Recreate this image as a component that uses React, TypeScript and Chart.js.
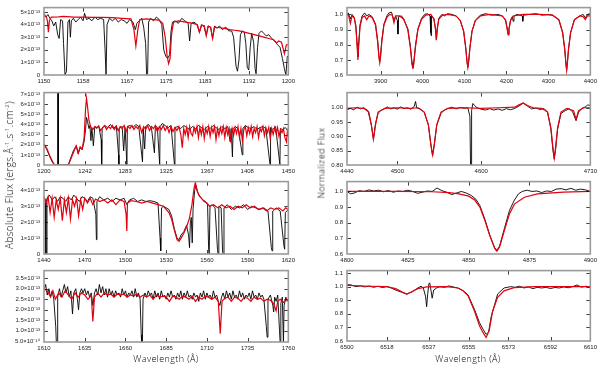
import React, { useEffect, useRef } from 'react';
import { Chart, registerables } from 'chart.js';

Chart.register(...registerables);

type Pt = [number, number];

// ---------- Panel 1 : 1150–1200 Å (flux in units of 1e-13) ----------
const p1XTicks = [1150, 1158, 1167, 1175, 1183, 1192, 1200];
const p1YTicks = [0, 1, 2, 3, 4, 5];
const p1YLabels = ['0', '1×10⁻¹³', '2×10⁻¹³', '3×10⁻¹³', '4×10⁻¹³', '5×10⁻¹³'];
const p1Obs: Pt[] = [
  [1150, 4.9], [1150.4, 4.6], [1150.8, 4.8], [1151.2, 4.5], [1151.6, 4.3], [1152, 3.9], [1152.4, 4.2],
  [1152.8, 3.2], [1153.1, 2.9], [1153.4, 4.4], [1153.8, 4.3], [1154, 2.5], [1154.3, 0], [1154.6, 0.3],
  [1154.9, 4.2], [1155.2, 4.4], [1155.4, 3.0], [1155.6, 4.3], [1156, 4.5], [1156.5, 4.2], [1157, 4.4],
  [1157.5, 4.6], [1158, 4.3], [1158.3, 4.9], [1158.7, 4.4], [1159.2, 4.5], [1159.8, 4.3], [1160.4, 4.6],
  [1161, 4.4], [1161.6, 4.5], [1162.2, 4.4], [1162.5, 2.0], [1162.7, 0], [1162.9, 4.0], [1163.4, 4.5],
  [1164, 4.3], [1164.6, 4.5], [1165.2, 4.2], [1165.8, 4.4], [1166.4, 4.3], [1167, 4.1], [1167.5, 4.4],
  [1168.2, 4.2], [1168.7, 3.6], [1169, 4.1], [1169.5, 4.3], [1170, 4.5], [1170.4, 3.8], [1170.8, 2.5],
  [1171, 0], [1171.2, 0.1], [1171.4, 4.2], [1171.8, 4.5], [1172.4, 4.3], [1173, 4.6], [1173.6, 4.4],
  [1174.1, 4.0], [1174.5, 2.0], [1174.9, 1.5], [1175.3, 1.3], [1175.7, 1.6], [1176, 3.5], [1176.3, 4.2],
  [1176.8, 4.3], [1177.5, 4.1], [1178.2, 4.5], [1178.8, 4.3], [1179.5, 4.1], [1179.8, 2.7], [1180.1, 4.1],
  [1180.7, 4.2], [1181.3, 4.0], [1181.8, 3.4], [1182.3, 4.0], [1182.8, 3.8], [1183.2, 3.2], [1183.6, 3.9],
  [1184.1, 3.8], [1184.5, 2.9], [1184.9, 3.9], [1185.4, 3.7], [1185.9, 3.9], [1186.5, 3.6], [1187.2, 3.8],
  [1187.8, 3.5], [1188.4, 3.5], [1188.8, 3.0], [1189.3, 0.7], [1189.6, 0.3], [1189.9, 1.2], [1190.2, 3.2],
  [1190.6, 3.5], [1191, 3.4], [1191.3, 2.5], [1191.6, 0.6], [1191.9, 0.4], [1192.2, 2.2], [1192.5, 3.3],
  [1192.9, 2.6], [1193.2, 0.5], [1193.4, 0.1], [1193.7, 2.2], [1194, 3.3], [1194.5, 3.5], [1195, 3.3],
  [1195.5, 3.1], [1196, 3.2], [1196.6, 2.9], [1197.2, 2.7], [1197.8, 2.4], [1198.3, 2.2], [1198.8, 1.3],
  [1199.2, 0.5], [1199.5, 0], [1199.8, 1.5], [1200, 1.4],
];
const p1Model: Pt[] = [
  [1150, 4.7], [1150.5, 4.6], [1150.7, 4.3], [1150.9, 3.4], [1151.1, 4.3], [1151.5, 4.6], [1153, 4.62],
  [1154, 4.65], [1156, 4.6], [1158, 4.6], [1160, 4.58], [1162, 4.57], [1164, 4.55], [1166, 4.5],
  [1167.8, 4.45], [1168.4, 3.6], [1168.8, 2.3], [1169.2, 3.6], [1169.6, 4.4], [1171, 4.45], [1172.5, 4.4],
  [1173.5, 4.35], [1174.3, 4.1], [1174.8, 3.0], [1175.2, 1.5], [1175.5, 0.9], [1175.8, 1.3], [1176.1, 3.2],
  [1176.5, 4.2], [1177.5, 4.3], [1179, 4.2], [1180.5, 4.1], [1181.4, 4.0], [1181.8, 3.4], [1182.2, 3.95],
  [1182.8, 3.9], [1183.2, 3.1], [1183.6, 3.85], [1184.1, 3.8], [1184.5, 2.9], [1184.9, 3.8], [1186, 3.75],
  [1187, 3.7], [1188, 3.6], [1189, 3.55], [1190, 3.5], [1191, 3.4], [1192, 3.3], [1193, 3.2], [1194, 3.1],
  [1195, 3.0], [1196, 2.9], [1197, 2.8], [1197.6, 2.55], [1198, 2.7], [1198.6, 2.6], [1199.2, 1.7],
  [1199.6, 2.4], [1200, 2.4],
];

// ---------- Panel 2 : 1200–1450 Å ----------
const p2XTicks = [1200, 1242, 1283, 1325, 1367, 1408, 1450];
const p2YTicks = [0, 1, 2, 3, 4, 5, 6, 7];
const p2YLabels = ['0', '1×10⁻¹³', '2×10⁻¹³', '3×10⁻¹³', '4×10⁻¹³', '5×10⁻¹³', '6×10⁻¹³', '7×10⁻¹³'];
const p2Obs: Pt[] = [
  [1200, 2.05], [1203, 1.5], [1206, 0.8], [1209, 0.2], [1211, 0], [1213.8, 0], [1214, 7.5], [1214.5, 7.5],
  [1214.7, 0], [1220, 0], [1225, 0.05], [1227, 0.6], [1230, 1.4], [1233, 1.9], [1235, 1.1], [1237, 1.7],
  [1239, 1.5], [1241, 2.3], [1242.5, 3.5], [1243.5, 4.7], [1244.5, 4.3], [1246, 3.6], [1247, 3.9],
  [1248, 2.4], [1249, 3.7], [1250.5, 1.9], [1252, 3.8], [1254, 3.6], [1256, 3.9], [1258.5, 2.5],
  [1259, 0], [1259.5, 3.6], [1262, 3.9], [1265, 3.7], [1268, 4.0], [1271, 3.6], [1274, 3.9], [1276.3, 1.0],
  [1276.6, 0], [1277, 3.6], [1280, 3.8], [1281.5, 1.4], [1283, 3.7], [1284.8, 0], [1285.3, 3.8],
  [1288, 3.9], [1291, 3.7], [1294, 4.0], [1297, 3.8], [1300, 1.0], [1300.8, 0.3], [1301.5, 3.6],
  [1303, 1.6], [1304, 3.8], [1307, 4.0], [1310, 3.6], [1313, 1.2], [1314, 3.9], [1316, 3.7], [1318.4, 0],
  [1318.8, 3.8], [1321, 4.1], [1324, 3.9], [1327, 3.7], [1330, 3.9], [1333.5, 0], [1334, 3.7], [1337, 3.8],
  [1340, 3.6], [1343, 3.9], [1346, 3.7], [1349, 3.5], [1352, 3.8], [1355, 3.6], [1358, 3.9], [1361, 3.7],
  [1364, 3.5], [1367, 3.8], [1370, 3.6], [1373, 3.9], [1376, 3.7], [1379, 3.5], [1382, 3.8], [1385, 3.6],
  [1388, 3.8], [1390.5, 2.3], [1391.5, 3.6], [1392.8, 0.8], [1393.5, 3.6], [1396, 3.8], [1399, 3.5],
  [1402.9, 1.0], [1403.5, 3.6], [1406, 3.9], [1409, 3.7], [1412, 3.6], [1415, 3.8], [1418, 3.5],
  [1421, 3.7], [1424, 3.8], [1427, 3.6], [1431.3, 0], [1431.8, 3.7], [1434, 3.5], [1437, 3.8],
  [1441.4, 0], [1441.9, 3.6], [1444, 3.5], [1447, 3.7], [1450, 3.3],
];
const p2Model: Pt[] = [
  [1200, 2.1], [1203, 1.6], [1206, 0.9], [1209, 0.3], [1211, 0], [1225, 0], [1227, 0.5], [1230, 1.2],
  [1233, 1.9], [1235, 1.2], [1237, 1.8], [1239, 1.6], [1241, 2.6], [1242.5, 5.5], [1243.5, 6.6],
  [1244.5, 5.8], [1246, 4.4], [1248, 3.7], [1250, 3.5], [1252, 3.8], [1254, 3.7], [1256, 3.8], [1258, 3.4],
  [1260, 3.7], [1262, 3.9], [1264, 3.5], [1266, 3.8], [1268, 3.6], [1270, 3.9], [1272, 3.5], [1274, 3.8],
  [1276, 3.4], [1278, 3.8], [1280, 3.6], [1282, 3.9], [1284, 3.3], [1286, 3.8], [1288, 3.6], [1290, 3.9],
  [1292, 3.5], [1294, 3.8], [1296, 3.6], [1298, 3.9], [1300, 3.2], [1302, 3.8], [1304, 3.5], [1306, 3.9],
  [1308, 3.4], [1310, 3.8], [1312, 3.6], [1314, 3.9], [1316, 3.3], [1318, 3.8], [1320, 3.5], [1322, 3.9],
  [1324, 3.4], [1326, 3.8], [1328, 3.2], [1330, 3.8], [1332, 3.3], [1334, 3.7], [1336, 3.4], [1338, 3.8],
  [1340, 3.0], [1341.5, 1.7], [1343, 3.6], [1344.5, 3.0], [1346, 3.7], [1347.5, 2.7], [1349, 3.8],
  [1350.5, 3.1], [1352, 2.9], [1353.5, 3.7], [1355, 3.2], [1356.5, 3.8], [1358, 2.7], [1359.5, 3.7],
  [1361, 3.0], [1362.5, 3.8], [1364, 2.6], [1365.5, 3.6], [1367, 3.1], [1368.5, 3.8], [1370, 2.8],
  [1371.5, 3.7], [1373, 3.2], [1374.5, 3.8], [1376, 2.5], [1377.5, 3.6], [1379, 2.9], [1380.5, 3.7],
  [1382, 3.1], [1383.5, 3.8], [1385, 2.7], [1386.5, 3.7], [1388, 3.0], [1389.5, 3.6], [1391, 2.5],
  [1392.5, 3.6], [1394, 2.9], [1395.5, 3.7], [1397, 3.1], [1398.5, 3.8], [1400, 2.7], [1401.5, 3.6],
  [1403, 2.4], [1404.5, 3.5], [1406, 3.8], [1407.5, 2.9], [1409, 3.7], [1410.5, 3.1], [1412, 3.8],
  [1413.5, 2.8], [1415, 3.6], [1416.5, 3.2], [1418, 3.8], [1419.5, 2.7], [1421, 3.6], [1422.5, 3.3],
  [1424, 3.8], [1425.5, 2.9], [1427, 3.7], [1428.5, 3.2], [1430, 3.7], [1431.5, 2.6], [1433, 3.6],
  [1434.5, 3.0], [1436, 3.7], [1437.5, 3.1], [1439, 3.7], [1440.5, 2.8], [1442, 3.5], [1443.5, 3.2],
  [1445, 3.6], [1446.5, 2.7], [1448, 2.3], [1449, 3.3], [1450, 2.8],
];

// ---------- Panel 3 : 1440–1620 Å ----------
const p3XTicks = [1440, 1470, 1500, 1530, 1560, 1590, 1620];
const p3YTicks = [0, 1, 2, 3, 4];
const p3YLabels = ['0', '1×10⁻¹³', '2×10⁻¹³', '3×10⁻¹³', '4×10⁻¹³'];
const p3Obs: Pt[] = [
  [1440, 3.6], [1441, 3.4], [1441.4, 0], [1441.8, 0], [1442.2, 3.5], [1444, 3.7], [1446, 3.4], [1448, 3.6],
  [1450, 3.3], [1452, 3.6], [1454, 3.5], [1456, 3.3], [1458, 3.6], [1460, 3.4], [1462, 3.7], [1464, 3.5],
  [1466, 3.3], [1468, 3.6], [1470, 3.5], [1472, 3.3], [1474, 3.6], [1476, 3.5], [1478.2, 2.5],
  [1478.6, 0.9], [1479, 3.3], [1481, 3.6], [1484, 3.4], [1487, 3.5], [1490, 3.3], [1493, 3.5], [1496, 3.4],
  [1499, 3.5], [1501, 3.1], [1503, 3.4], [1506, 3.5], [1509, 3.3], [1512, 3.4], [1515, 3.3], [1518, 3.35],
  [1521, 3.3], [1524, 3.2], [1525.5, 1.0], [1526, 0.2], [1526.6, 2.9], [1528, 3.0], [1530, 2.9],
  [1532, 2.8], [1534, 2.4], [1536, 1.6], [1538, 1.0], [1539.5, 0.9], [1541, 1.2], [1543, 1.4], [1545, 1.8],
  [1546.5, 1.2], [1547.2, 0.4], [1547.8, 1.9], [1548.5, 2.3], [1549.2, 0.7], [1549.8, 2.8], [1551, 4.0],
  [1552, 4.3], [1553, 3.9], [1555, 3.6], [1557, 3.4], [1559, 3.3], [1560.5, 3.1], [1561.3, 0.3],
  [1561.7, 0], [1562.3, 3.0], [1564, 3.1], [1566, 2.9], [1567.8, 0.3], [1568.2, 0], [1568.8, 3.0],
  [1570.5, 2.9], [1571.6, 0.1], [1572, 0], [1572.6, 2.9], [1575, 3.1], [1578, 2.8], [1581, 3.0],
  [1584, 2.9], [1587, 3.1], [1590, 2.8], [1593, 3.0], [1596, 2.9], [1599, 2.8], [1602, 2.9], [1605, 2.7],
  [1607.5, 0.4], [1608, 0.2], [1608.5, 2.7], [1611, 2.9], [1614, 2.7], [1616.8, 0.5], [1617.3, 0.3],
  [1617.8, 2.6], [1620, 2.8],
];
const p3Model: Pt[] = [
  [1440, 3.6], [1441.5, 3.2], [1443, 3.6], [1444.5, 2.6], [1446, 3.5], [1447.5, 2.3], [1449, 3.4],
  [1450.5, 2.8], [1452, 3.5], [1453.5, 2.1], [1455, 3.4], [1456.5, 2.6], [1458, 3.5], [1459.5, 2.2],
  [1461, 3.4], [1462.5, 3.0], [1464, 3.5], [1465.5, 2.4], [1467, 3.4], [1468.5, 2.8], [1470, 3.5],
  [1472, 3.2], [1474, 3.5], [1476, 3.1], [1478, 3.45], [1481, 3.3], [1484, 3.4], [1487, 3.2], [1490, 3.4],
  [1493, 3.1], [1496, 3.4], [1499, 3.3], [1500.5, 2.5], [1501, 1.45], [1501.5, 3.2], [1504, 3.35],
  [1508, 3.3], [1512, 3.2], [1516, 3.3], [1520, 3.2], [1524, 3.1], [1528, 3.0], [1530, 2.8], [1532, 2.6],
  [1534, 2.2], [1536, 1.5], [1538, 0.9], [1539.5, 0.8], [1541, 1.0], [1543, 1.3], [1545, 1.7],
  [1547, 2.2], [1549, 3.1], [1550.5, 4.1], [1551.5, 4.5], [1552.5, 4.1], [1554, 3.7], [1556, 3.5],
  [1558, 3.3], [1560, 3.2], [1562, 3.0], [1565, 3.1], [1568, 2.9], [1571, 3.1], [1574, 2.9], [1577, 3.0],
  [1580, 2.8], [1583, 3.0], [1586, 2.9], [1589, 3.1], [1592, 2.9], [1595, 3.0], [1598, 2.8], [1601, 2.9],
  [1604, 2.7], [1607, 2.9], [1610, 2.8], [1613, 2.9], [1616, 2.7], [1618, 2.9], [1620, 2.8],
];

// ---------- Panel 4 : 1610–1760 Å ----------
const p4XTicks = [1610, 1635, 1660, 1685, 1710, 1735, 1760];
const p4YTicks = [0.5, 1.0, 1.5, 2.0, 2.5, 3.0, 3.5];
const p4YLabels = ['5.0×10⁻¹⁴', '1.0×10⁻¹³', '1.5×10⁻¹³', '2.0×10⁻¹³', '2.5×10⁻¹³', '3.0×10⁻¹³', '3.5×10⁻¹³'];
const p4Obs: Pt[] = [
  [1610, 2.9], [1611, 3.2], [1612, 2.7], [1613, 3.0], [1614, 2.6], [1615, 2.9], [1616, 2.5], [1617.2, 1.2],
  [1617.6, 0.4], [1618, 0.4], [1618.4, 2.6], [1619.5, 3.0], [1620.5, 2.6], [1621.5, 2.9], [1622.5, 3.2],
  [1623.5, 2.8], [1624.5, 3.1], [1625.5, 2.6], [1626.5, 2.9], [1627.5, 1.8], [1628.3, 2.8], [1629.5, 3.0],
  [1630.5, 2.5], [1631.2, 2.0], [1632, 2.8], [1633, 3.0], [1634, 2.8], [1635, 3.0], [1636, 2.7],
  [1637, 2.9], [1638, 2.6], [1639, 2.8], [1640, 2.2], [1641, 2.8], [1642, 3.0], [1643, 2.7], [1644, 3.2],
  [1645, 2.8], [1646, 3.1], [1647, 2.7], [1648, 3.0], [1649, 2.6], [1650, 3.0], [1651, 2.7], [1652, 2.9],
  [1653, 2.6], [1654, 2.9], [1655, 2.7], [1656, 2.8], [1657, 2.6], [1658, 3.0], [1659, 2.7], [1660, 2.9],
  [1661, 2.6], [1662, 2.8], [1663, 2.7], [1664, 2.9], [1665, 2.6], [1666, 3.0], [1667, 2.6], [1668, 2.8],
  [1669, 2.5], [1669.7, 0.8], [1670, 0.4], [1670.4, 0.4], [1670.8, 2.5], [1672, 2.8], [1673, 2.6],
  [1674, 2.9], [1675, 2.7], [1676, 2.8], [1677, 2.5], [1678, 2.9], [1679, 2.6], [1680, 2.8], [1681, 2.5],
  [1682, 2.9], [1683, 2.6], [1684, 2.7], [1685, 2.5], [1686, 2.8], [1687, 2.6], [1688, 2.9], [1689, 2.6],
  [1690, 2.7], [1691, 2.5], [1692, 2.8], [1693, 2.6], [1694, 2.9], [1695, 2.5], [1696, 2.8], [1697, 2.6],
  [1698, 2.9], [1699, 2.6], [1700, 2.7], [1701, 2.5], [1702, 2.8], [1703, 2.6], [1704, 2.7], [1705, 2.4],
  [1706, 2.8], [1707, 2.6], [1708, 2.9], [1709, 2.5], [1710, 2.8], [1711, 2.6], [1712, 2.7], [1713, 2.5],
  [1714, 2.9], [1715, 2.6], [1716, 2.7], [1717, 2.4], [1718, 2.2], [1719, 2.6], [1720, 2.8], [1721, 2.5],
  [1722, 2.9], [1723, 2.6], [1724, 2.8], [1725, 2.5], [1726, 2.9], [1727, 2.6], [1728, 2.7], [1729, 2.5],
  [1730, 2.9], [1731, 2.6], [1732, 2.8], [1733, 2.5], [1734, 2.7], [1735, 2.6], [1736, 2.8], [1737, 2.5],
  [1738, 2.9], [1739, 2.6], [1740, 2.7], [1741, 2.5], [1742, 2.8], [1743, 2.6], [1744, 2.7], [1745, 2.5],
  [1746.5, 1.2], [1747, 0.7], [1747.5, 2.5], [1749, 2.7], [1750.5, 2.2], [1751, 1.9], [1751.6, 2.6],
  [1752.5, 2.4], [1753.5, 2.7], [1754.6, 1.0], [1755, 0.4], [1755.4, 2.3], [1756.3, 2.6], [1757, 0.4],
  [1757.4, 2.2], [1758.5, 2.6], [1759.3, 2.4], [1760, 2.5],
];
const p4Model: Pt[] = [
  [1610, 3.0], [1612, 2.9], [1614, 2.6], [1615.5, 2.9], [1617, 2.5], [1619, 2.8], [1621, 2.6], [1623, 2.9],
  [1625, 2.7], [1627, 2.5], [1629, 2.8], [1631, 2.6], [1633, 2.8], [1635, 2.7], [1637, 2.5], [1639, 2.7],
  [1640, 1.45], [1641, 2.6], [1643, 2.8], [1645, 2.6], [1647, 2.8], [1649, 2.7], [1651, 2.75], [1653, 2.6],
  [1655, 2.75], [1657, 2.7], [1659, 2.75], [1661, 2.6], [1663, 2.7], [1665, 2.65], [1667, 2.75],
  [1669, 2.6], [1671, 2.7], [1673, 2.6], [1675, 2.7], [1677, 2.5], [1679, 2.7], [1681, 2.6], [1683, 2.65],
  [1685, 2.6], [1687, 2.4], [1689, 2.65], [1691, 2.6], [1693, 2.5], [1695, 2.65], [1697, 2.6], [1699, 2.5],
  [1701, 2.65], [1703, 2.4], [1705, 2.6], [1707, 2.5], [1709, 2.65], [1711, 2.6], [1713, 2.5], [1715, 2.6],
  [1717, 2.4], [1718.2, 0.86], [1719.3, 2.4], [1721, 2.55], [1723, 2.6], [1725, 2.4], [1727, 2.6],
  [1729, 2.55], [1731, 2.4], [1733, 2.6], [1735, 2.55], [1737, 2.4], [1739, 2.6], [1741, 2.5],
  [1743, 2.55], [1745, 2.4], [1747, 2.5], [1749, 2.45], [1751, 2.3], [1752.5, 1.95], [1753.5, 2.4],
  [1755, 2.5], [1757, 2.35], [1759, 2.5], [1760, 2.45],
];

// ---------- Right panel 1 : 3820–4400 Å (normalized) ----------
const r1XTicks = [3900, 4000, 4100, 4200, 4300, 4400];
const r1YTicks = [0.6, 0.7, 0.8, 0.9, 1.0];
const r1YLabels = ['0.6', '0.7', '0.8', '0.9', '1.0'];
const r1Obs: Pt[] = [
  [3820, 1.0], [3823, 1.01], [3828, 0.97], [3832, 1.0], [3837, 0.98], [3841, 0.93], [3844, 0.81],
  [3846, 0.72], [3848, 0.81], [3851, 0.93], [3856, 0.99], [3862, 1.01], [3867, 0.99], [3872, 1.0],
  [3880, 0.985], [3888, 0.935], [3893, 0.83], [3896, 0.73], [3898, 0.69], [3900, 0.73], [3903, 0.83],
  [3908, 0.935], [3915, 0.99], [3920, 1.01], [3926, 1.015], [3932, 0.96], [3936, 0.99], [3940, 0.96],
  [3941.5, 0.87], [3943, 0.985], [3950, 0.99], [3955, 0.97], [3965, 0.905], [3971, 0.79], [3975, 0.68],
  [3977, 0.65], [3979, 0.68], [3983, 0.79], [3989, 0.905], [3998, 0.975], [4005, 1.0], [4012, 1.005],
  [4018, 0.99], [4019.5, 0.88], [4020.5, 0.86], [4021.5, 0.99], [4027, 0.975], [4031, 0.905],
  [4033, 0.835], [4035, 0.905], [4039, 0.975], [4046, 1.0], [4052, 0.99], [4060, 1.005], [4070, 1.0],
  [4080, 0.99], [4090, 0.96], [4098, 0.89], [4103, 0.78], [4106, 0.69], [4108, 0.65], [4110, 0.69],
  [4113, 0.78], [4118, 0.89], [4126, 0.96], [4138, 0.995], [4150, 1.005], [4165, 0.995], [4180, 1.0],
  [4190, 0.99], [4198, 0.965], [4202, 0.905], [4204, 0.87], [4206, 0.905], [4210, 0.965], [4214, 0.985],
  [4216, 0.955], [4218, 0.99], [4225, 1.0], [4238, 0.99], [4239, 0.955], [4240.5, 0.995], [4255, 1.0],
  [4270, 1.005], [4285, 0.995], [4300, 1.0], [4310, 0.995], [4325, 0.965], [4334, 0.88], [4339, 0.77],
  [4342, 0.67], [4343.6, 0.635], [4345, 0.67], [4348, 0.77], [4353, 0.88], [4362, 0.965], [4375, 0.99],
  [4383, 1.0], [4388, 0.975], [4393, 1.0], [4400, 1.005],
];
const r1Model: Pt[] = [
  [3820, 1.0], [3824, 0.99], [3828, 0.94], [3832, 0.99], [3837, 0.98], [3841, 0.92], [3844, 0.8],
  [3846, 0.7], [3848, 0.8], [3851, 0.92], [3856, 0.98], [3862, 0.99], [3867, 0.965], [3872, 0.99],
  [3880, 0.98], [3888, 0.93], [3893, 0.82], [3896, 0.72], [3898, 0.68], [3900, 0.72], [3903, 0.82],
  [3908, 0.93], [3915, 0.98], [3922, 1.0], [3928, 0.995], [3932, 0.945], [3936, 0.99], [3945, 0.99],
  [3955, 0.97], [3965, 0.9], [3971, 0.78], [3975, 0.67], [3977, 0.64], [3979, 0.67], [3983, 0.78],
  [3989, 0.9], [3998, 0.97], [4008, 0.995], [4020, 1.0], [4027, 0.97], [4031, 0.9], [4033, 0.83],
  [4035, 0.9], [4039, 0.97], [4048, 0.995], [4060, 1.0], [4080, 0.99], [4090, 0.96], [4098, 0.89],
  [4103, 0.78], [4106, 0.69], [4108, 0.65], [4110, 0.69], [4113, 0.78], [4118, 0.89], [4126, 0.96],
  [4138, 0.99], [4160, 1.0], [4190, 0.99], [4198, 0.96], [4202, 0.9], [4204, 0.865], [4206, 0.9],
  [4210, 0.96], [4216, 0.99], [4240, 1.0], [4280, 1.0], [4310, 0.995], [4325, 0.965], [4334, 0.88],
  [4339, 0.77], [4342, 0.67], [4343.6, 0.63], [4345, 0.67], [4348, 0.77], [4353, 0.88], [4362, 0.965],
  [4375, 0.99], [4383, 0.985], [4388, 0.965], [4393, 0.99], [4400, 0.99],
];

// ---------- Right panel 2 : 4440–4730 Å ----------
const r2XTicks = [4440, 4500, 4600, 4730];
const r2YTicks = [0.8, 0.85, 0.9, 0.95, 1.0];
const r2YLabels = ['0.80', '0.85', '0.90', '0.95', '1.00'];
const r2Obs: Pt[] = [
  [4440, 0.993], [4444, 0.998], [4448, 0.993], [4452, 1.002], [4456, 0.996], [4460, 1.0], [4465, 0.99],
  [4469, 0.94], [4471.5, 0.89], [4474, 0.945], [4477, 0.98], [4480, 0.99], [4484, 0.995], [4488, 1.003],
  [4492, 0.996], [4496, 1.0], [4500, 0.995], [4504, 1.003], [4508, 0.997], [4512, 1.0], [4516, 0.995],
  [4520, 1.004], [4521.7, 1.022], [4523, 1.0], [4527, 0.996], [4532, 0.985], [4537, 0.94], [4540, 0.87],
  [4542, 0.832], [4544, 0.87], [4547, 0.94], [4552, 0.98], [4556, 0.992], [4560, 0.997], [4565, 1.002],
  [4570, 0.996], [4575, 1.001], [4580, 0.998], [4584, 1.0], [4586.5, 0.97], [4587.3, 0.78], [4588, 0.78],
  [4588.5, 0.99], [4590, 1.015], [4592, 1.008], [4595, 1.0], [4600, 0.995], [4605, 0.992], [4610, 0.997],
  [4615, 0.992], [4620, 0.996], [4625, 0.991], [4630, 0.997], [4635, 0.993], [4640, 0.998], [4645, 1.006],
  [4650, 1.016], [4655, 1.006], [4660, 0.996], [4665, 0.999], [4670, 0.994], [4675, 0.997], [4679, 0.985],
  [4683, 0.925], [4685.5, 0.85], [4687, 0.82], [4688.5, 0.85], [4691, 0.925], [4695, 0.98], [4700, 0.99],
  [4705, 0.997], [4709, 0.985], [4713, 0.955], [4716, 0.985], [4720, 0.998], [4724, 1.003], [4727, 1.01],
  [4730, 1.008],
];
const r2Model: Pt[] = [
  [4440, 0.998], [4450, 1.0], [4460, 0.998], [4466, 0.985], [4469, 0.94], [4471.5, 0.89], [4474, 0.94],
  [4477, 0.985], [4485, 0.998], [4500, 1.0], [4515, 0.998], [4525, 1.0], [4532, 0.985], [4537, 0.94],
  [4540, 0.87], [4542, 0.835], [4544, 0.87], [4547, 0.94], [4552, 0.985], [4560, 0.998], [4580, 1.0],
  [4600, 0.998], [4620, 1.0], [4640, 1.002], [4645, 1.01], [4650, 1.017], [4655, 1.008], [4662, 1.0],
  [4672, 0.998], [4679, 0.985], [4683, 0.93], [4685.5, 0.86], [4687, 0.825], [4688.5, 0.86], [4691, 0.93],
  [4695, 0.985], [4702, 0.998], [4710, 0.99], [4713, 0.96], [4716, 0.99], [4722, 1.0], [4730, 1.0],
];

// ---------- Right panel 3 : 4800–4900 Å ----------
const r3XTicks = [4800, 4825, 4850, 4875, 4900];
const r3YTicks = [0.6, 0.7, 0.8, 0.9, 1.0];
const r3YLabels = ['0.6', '0.7', '0.8', '0.9', '1.0'];
const r3Obs: Pt[] = [
  [4800, 1.0], [4801.5, 0.985], [4803, 0.99], [4805, 1.005], [4807, 1.0], [4809, 1.01], [4811, 1.003],
  [4813, 1.008], [4815, 0.998], [4817, 1.006], [4819, 0.995], [4821, 1.003], [4823, 1.0], [4825, 1.008],
  [4827, 1.0], [4829, 0.988], [4831, 0.995], [4833, 1.003], [4835, 1.0], [4837, 1.022], [4839, 1.005],
  [4841, 0.995], [4843, 0.98], [4845, 0.99], [4847, 1.0], [4849, 0.99], [4851, 0.975], [4853, 0.95],
  [4854.6, 0.91], [4856.6, 0.825], [4858.7, 0.72], [4860.7, 0.64], [4861.6, 0.624], [4862.7, 0.65],
  [4864.8, 0.77], [4866.8, 0.88], [4868.8, 0.945], [4870.5, 0.985], [4872, 1.0], [4874, 1.008],
  [4876, 1.0], [4878, 1.003], [4880, 0.993], [4882, 1.003], [4884, 1.0], [4886, 1.015], [4888, 1.018],
  [4890, 1.01], [4892, 1.02], [4894, 1.008], [4896, 1.015], [4898, 1.01], [4900, 1.0],
];
const r3Model: Pt[] = [
  [4800, 1.0], [4820, 1.0], [4835, 0.998], [4842, 0.993], [4846, 0.985], [4850, 0.97], [4852.5, 0.945],
  [4854.6, 0.9], [4856.6, 0.817], [4858.7, 0.716], [4860.7, 0.635], [4861.6, 0.618], [4862.7, 0.645],
  [4864.8, 0.756], [4866.8, 0.858], [4868.8, 0.919], [4872.9, 0.963], [4878.3, 0.984], [4889, 0.996],
  [4900, 1.0],
];

// ---------- Right panel 4 : 6500–6610 Å ----------
const r4XTicks = [6500, 6518, 6537, 6555, 6573, 6592, 6610];
const r4YTicks = [0.6, 0.7, 0.8, 0.9, 1.0, 1.1];
const r4YLabels = ['0.6', '0.7', '0.8', '0.9', '1.0', '1.1'];
const r4Obs: Pt[] = [
  [6500, 1.015], [6502, 1.012], [6504, 1.0], [6506, 1.006], [6508, 0.998], [6510, 1.005], [6512, 0.995],
  [6514, 1.003], [6516, 0.993], [6518, 1.0], [6520, 0.99], [6522, 0.975], [6524.5, 0.96], [6527, 0.945],
  [6529.5, 0.962], [6532, 0.99], [6533.5, 1.003], [6534.5, 0.99], [6535.5, 0.93], [6536, 0.852],
  [6536.5, 0.95], [6537, 1.02], [6537.4, 1.028], [6538, 0.97], [6538.5, 0.915], [6539.2, 0.975],
  [6540.5, 0.99], [6542, 1.0], [6544, 0.995], [6546, 1.005], [6548, 0.998], [6550, 0.99], [6552, 0.975],
  [6554.7, 0.94], [6557.7, 0.83], [6559.9, 0.735], [6561.4, 0.689], [6562.9, 0.649], [6564, 0.665],
  [6565.2, 0.78], [6566.6, 0.86], [6568.1, 0.946], [6571, 0.99], [6574, 1.0], [6576, 0.995], [6578, 1.003],
  [6580, 0.99], [6582, 0.998], [6584, 0.985], [6586, 0.995], [6588, 0.99], [6590, 0.995], [6592, 0.986],
  [6594, 0.994], [6596, 0.99], [6598, 0.998], [6600, 0.992], [6602, 1.0], [6604, 1.012], [6606, 0.996],
  [6608, 1.003], [6610, 0.996],
];
const r4Model: Pt[] = [
  [6500, 1.01], [6510, 1.003], [6518, 1.0], [6522, 0.985], [6525, 0.96], [6527, 0.945], [6529, 0.96],
  [6532, 0.985], [6536, 0.998], [6545, 1.0], [6550.2, 0.99], [6552.5, 0.97], [6554.7, 0.934],
  [6557.7, 0.817], [6559.9, 0.712], [6561.4, 0.665], [6562.9, 0.626], [6564.3, 0.678], [6565.8, 0.817],
  [6568.1, 0.922], [6571, 0.969], [6575.5, 0.993], [6585, 1.0], [6600, 1.0], [6610, 1.0],
];

// ---------- layout ----------
const FONT = '"Liberation Sans", Arial, Helvetica, sans-serif';
const TITLE_FONT = '"Open Sans", "Liberation Sans", Arial, sans-serif';
const PAD_L = 42;
const PAD_R = 6;
const PAD_B = 12;

type PanelCfg = {
  obs: Pt[]; model: Pt[];
  xMin: number; xMax: number; yMin: number; yMax: number;
  xTicks: number[]; yTicks: number[]; yLabels: string[];
  left: number; top: number; right: number; bottom: number;
};

const LEFT_X = [44, 292];
const RIGHT_X = [347, 594];

const panels: PanelCfg[] = [
  { obs: p1Obs, model: p1Model, xMin: 1150, xMax: 1200, yMin: 0, yMax: 5.35, xTicks: p1XTicks, yTicks: p1YTicks, yLabels: p1YLabels, left: LEFT_X[0], right: LEFT_X[1], top: 2, bottom: 75 },
  { obs: p2Obs, model: p2Model, xMin: 1200, xMax: 1450, yMin: 0, yMax: 7.15, xTicks: p2XTicks, yTicks: p2YTicks, yLabels: p2YLabels, left: LEFT_X[0], right: LEFT_X[1], top: 89, bottom: 165 },
  { obs: p3Obs, model: p3Model, xMin: 1440, xMax: 1620, yMin: 0, yMax: 4.55, xTicks: p3XTicks, yTicks: p3YTicks, yLabels: p3YLabels, left: LEFT_X[0], right: LEFT_X[1], top: 178, bottom: 254 },
  { obs: p4Obs, model: p4Model, xMin: 1610, xMax: 1760, yMin: 0.47, yMax: 3.86, xTicks: p4XTicks, yTicks: p4YTicks, yLabels: p4YLabels, left: LEFT_X[0], right: LEFT_X[1], top: 267, bottom: 342 },
  { obs: r1Obs, model: r1Model, xMin: 3820, xMax: 4400, yMin: 0.6, yMax: 1.045, xTicks: r1XTicks, yTicks: r1YTicks, yLabels: r1YLabels, left: RIGHT_X[0], right: RIGHT_X[1], top: 2, bottom: 75 },
  { obs: r2Obs, model: r2Model, xMin: 4440, xMax: 4730, yMin: 0.8, yMax: 1.053, xTicks: r2XTicks, yTicks: r2YTicks, yLabels: r2YLabels, left: RIGHT_X[0], right: RIGHT_X[1], top: 89, bottom: 165 },
  { obs: r3Obs, model: r3Model, xMin: 4800, xMax: 4900, yMin: 0.6, yMax: 1.063, xTicks: r3XTicks, yTicks: r3YTicks, yLabels: r3YLabels, left: RIGHT_X[0], right: RIGHT_X[1], top: 178, bottom: 254 },
  { obs: r4Obs, model: r4Model, xMin: 6500, xMax: 6610, yMin: 0.6, yMax: 1.118, xTicks: r4XTicks, yTicks: r4YTicks, yLabels: r4YLabels, left: RIGHT_X[0], right: RIGHT_X[1], top: 267, bottom: 341 },
];

const framePlugin = {
  id: 'idlFrame',
  afterDatasetsDraw(chart: any) {
    const { ctx, chartArea: a, scales } = chart;
    const tl = 4;
    ctx.save();
    ctx.strokeStyle = '#111';
    ctx.lineWidth = 0.8;
    ctx.beginPath();
    scales.x.ticks.forEach((t: any) => {
      const px = Math.round(scales.x.getPixelForValue(t.value)) + 0.5;
      if (px <= a.left + 2 || px >= a.right - 2) return;
      ctx.moveTo(px, a.bottom); ctx.lineTo(px, a.bottom - tl);
      ctx.moveTo(px, a.top); ctx.lineTo(px, a.top + tl);
    });
    scales.y.ticks.forEach((t: any) => {
      const py = Math.round(scales.y.getPixelForValue(t.value)) + 0.5;
      if (py <= a.top + 2 || py >= a.bottom - 2) return;
      ctx.moveTo(a.left, py); ctx.lineTo(a.left + tl, py);
      ctx.moveTo(a.right, py); ctx.lineTo(a.right - tl, py);
    });
    ctx.stroke();
    ctx.strokeStyle = '#9a9a9a';
    ctx.lineWidth = 1.6;
    ctx.strokeRect(a.left, a.top, a.right - a.left, a.bottom - a.top);
    ctx.restore();
  },
};

function Panel({ cfg }: { cfg: PanelCfg }) {
  const ref = useRef<HTMLCanvasElement | null>(null);
  const padT = cfg.top >= 4 ? 4 : cfg.top;
  const W = cfg.right - cfg.left + PAD_L + PAD_R;
  const H = cfg.bottom - cfg.top + padT + PAD_B;

  useEffect(() => {
    if (!ref.current) return;
    const chart = new Chart(ref.current, {
      type: 'line',
      data: {
        datasets: [
          {
            data: cfg.model.map(([x, y]) => ({ x, y })),
            borderColor: '#e3000f', borderWidth: 1.2, pointRadius: 0, tension: 0,
          },
          {
            data: cfg.obs.map(([x, y]) => ({ x, y })),
            borderColor: '#000000', borderWidth: 0.9, pointRadius: 0, tension: 0,
          },
        ],
      },
      options: {
        responsive: false,
        animation: false,
        events: [],
        layout: { padding: { top: padT, right: PAD_R, left: 0, bottom: 0 } },
        plugins: { legend: { display: false }, tooltip: { enabled: false } },
        scales: {
          x: {
            type: 'linear', min: cfg.xMin, max: cfg.xMax,
            grid: { display: false, drawTicks: false },
            border: { display: false },
            afterBuildTicks: (axis: any) => { axis.ticks = cfg.xTicks.map((v) => ({ value: v })); },
            afterFit: (s: any) => { s.height = PAD_B; },
            ticks: {
              autoSkip: false, maxRotation: 0, minRotation: 0, padding: 3, color: '#222',
              font: { size: 6, family: FONT },
              callback: (v: any) => String(v),
            },
          },
          y: {
            type: 'linear', min: cfg.yMin, max: cfg.yMax,
            grid: { display: false, drawTicks: false },
            border: { display: false },
            afterBuildTicks: (axis: any) => { axis.ticks = cfg.yTicks.map((v) => ({ value: v })); },
            afterFit: (s: any) => { s.width = PAD_L; },
            ticks: {
              autoSkip: false, padding: 4, color: '#222',
              font: { size: 6, family: FONT },
              callback: (_v: any, i: number) => cfg.yLabels[i] ?? '',
            },
          },
        },
      },
      plugins: [framePlugin],
    } as any);
    return () => chart.destroy();
  }, [cfg]);

  return (
    <canvas
      ref={ref}
      width={W}
      height={H}
      style={{ position: 'absolute', left: cfg.left - PAD_L, top: cfg.top - padT, width: W, height: H }}
    />
  );
}

const titleStyle: React.CSSProperties = {
  position: 'absolute', whiteSpace: 'nowrap', fontFamily: TITLE_FONT, fontWeight: 300, color: '#000',
  letterSpacing: 0.4, transform: 'translate(-50%, -50%)',
};

export default function App() {
  return (
    <div style={{ position: 'fixed', left: 0, top: 0, width: 600, height: 365, background: '#fff', overflow: 'hidden' }}>
      {panels.map((p, i) => <Panel key={i} cfg={p} />)}
      <div style={{ ...titleStyle, left: 9, top: 175, fontSize: 10, transform: 'translate(-50%, -50%) rotate(-90deg)' }}>
        Absolute Flux (ergs.Å<sup style={{ fontSize: 6 }}>-1</sup>.s<sup style={{ fontSize: 6 }}>-1</sup>.cm<sup style={{ fontSize: 6 }}>-2</sup>)
      </div>
      <div style={{ ...titleStyle, left: 321, top: 163, fontSize: 9, transform: 'translate(-50%, -50%) rotate(-90deg)' }}>
        Normalized Flux
      </div>
      <div style={{ ...titleStyle, left: 166, top: 358, fontSize: 9 }}>Wavelength (Å)</div>
      <div style={{ ...titleStyle, left: 468, top: 358, fontSize: 9 }}>Wavelength (Å)</div>
    </div>
  );
}
